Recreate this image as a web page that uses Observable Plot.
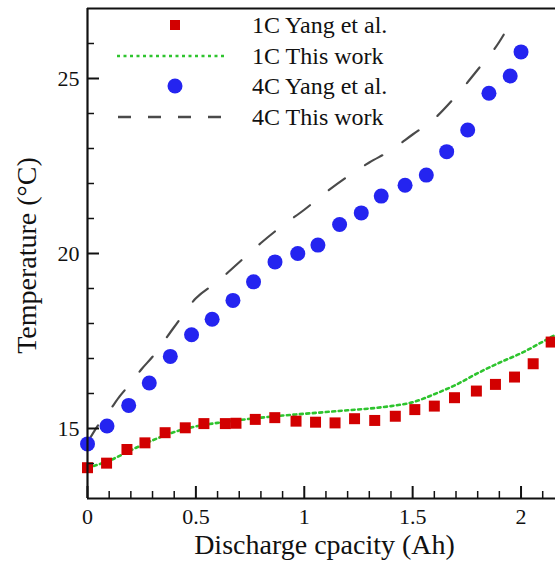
<!DOCTYPE html>
<html><head><meta charset="utf-8">
<script src="https://cdn.jsdelivr.net/npm/d3@7"></script>
<script src="https://cdn.jsdelivr.net/npm/@observablehq/plot@0.6"></script>
<style>
body{margin:0;background:#fff;overflow:hidden}
#wrap{position:relative;width:555px;height:568px}
.row{position:absolute;left:0;height:30px;width:555px;font-family:"Liberation Serif","Times New Roman",serif;font-size:24px;color:#111}
.row svg{position:absolute;left:110px;top:0}
.row span{position:absolute;left:252px;top:50%;transform:translateY(-50%);white-space:nowrap;line-height:1}
</style></head><body><div id="wrap"></div>
<script>
// 1C Yang et al. (red squares)
const yang1C_x = [0, 0.088, 0.182, 0.265, 0.358, 0.451, 0.537, 0.636, 0.685, 0.774, 0.864, 0.962, 1.052, 1.142, 1.232, 1.325, 1.42, 1.51, 1.60, 1.693, 1.794, 1.882, 1.97, 2.056, 2.139];
const yang1C_y = [13.88, 14.01, 14.40, 14.59, 14.88, 15.02, 15.14, 15.14, 15.15, 15.26, 15.31, 15.21, 15.18, 15.16, 15.28, 15.23, 15.35, 15.54, 15.64, 15.88, 16.07, 16.26, 16.47, 16.85, 17.47];
// 1C This work (green dotted)
const work1C_x = [0, 0.1, 0.2, 0.3, 0.4, 0.5, 0.6, 0.7, 0.8, 0.9, 1.0, 1.1, 1.2, 1.3, 1.4, 1.5, 1.6, 1.7, 1.8, 1.9, 2.0, 2.1, 2.159];
const work1C_y = [13.88, 14.08, 14.38, 14.66, 14.9, 15.06, 15.16, 15.24, 15.31, 15.37, 15.42, 15.47, 15.52, 15.57, 15.64, 15.75, 15.98, 16.25, 16.58, 16.88, 17.15, 17.48, 17.68];
// 4C Yang et al. (blue circles)
const yang4C_x = [0, 0.09, 0.19, 0.285, 0.382, 0.48, 0.575, 0.671, 0.766, 0.865, 0.97, 1.063, 1.163, 1.263, 1.355, 1.465, 1.563, 1.657, 1.754, 1.852, 1.95, 2.0];
const yang4C_y = [14.56, 15.07, 15.66, 16.30, 17.06, 17.68, 18.12, 18.66, 19.19, 19.76, 20.0, 20.24, 20.83, 21.16, 21.64, 21.95, 22.24, 22.91, 23.53, 24.58, 25.07, 25.76];
// 4C This work (gray dashed)
const work4C_x = [0, 0.05, 0.1, 0.15, 0.2, 0.25, 0.3, 0.4, 0.5, 0.6, 0.7, 0.8, 0.9, 1.0, 1.1, 1.2, 1.3, 1.4, 1.5, 1.6, 1.7, 1.8, 1.9, 1.92];
const work4C_y = [14.6, 15.1, 15.5, 15.93, 16.3, 16.7, 17.05, 17.9, 18.72, 19.2, 19.75, 20.3, 20.8, 21.25, 21.75, 22.2, 22.6, 22.95, 23.4, 23.85, 24.5, 25.25, 26.05, 26.25];

const xMajor = [0, 0.5, 1, 1.5, 2];
const xMinor = [0.1, 0.2, 0.3, 0.4, 0.6, 0.7, 0.8, 0.9, 1.1, 1.2, 1.3, 1.4, 1.6, 1.7, 1.8, 1.9, 2.1];
const yMajor = [15, 20, 25];
const yMinor = [14, 16, 17, 18, 19, 21, 22, 23, 24, 26];
const xLabel = "Discharge cpacity (Ah)";
const yLabel = "Temperature (°C)";
const seriesNames = ["1C Yang et al.", "1C This work", "4C Yang et al.", "4C This work"];

const RED = "#d20000", GREEN = "#2ec42e", BLUE = "#2424f0", GRAY = "#4a4a4a";
const SERIF = '"Liberation Serif", "Times New Roman", serif';

const zip = (xs, ys) => xs.map((x, i) => ({x, y: ys[i]}));
const yang1C = zip(yang1C_x, yang1C_y);
const work1C = zip(work1C_x, work1C_y);
const yang4C = zip(yang4C_x, yang4C_y);
const work4C = zip(work4C_x, work4C_y);

const W = 555, H = 568, mt = 8, mb = 70, ml = 87, mr = 0;
const frameH = H - mt - mb, frameW = W - ml - mr;

const chart = Plot.plot({
  width: W, height: H,
  marginTop: mt, marginBottom: mb, marginLeft: ml, marginRight: mr,
  style: {fontFamily: SERIF, background: "white", color: "#111", overflow: "visible"},
  x: {domain: [0, 2.159]},
  y: {domain: [13, 27]},
  marks: [
    Plot.line(work1C, {x: "x", y: "y", stroke: GREEN, strokeWidth: 2.6, strokeDasharray: "3,3.5", curve: "monotone-x"}),
    Plot.line(work4C, {x: "x", y: "y", stroke: GRAY, strokeWidth: 2.2, strokeDasharray: "20,24", curve: "monotone-x"}),
    Plot.dot(yang1C, {x: "x", y: "y", symbol: "square", r: 6.2, fill: RED}),
    Plot.dot(yang4C, {x: "x", y: "y", r: 7.5, fill: BLUE}),
    Plot.tickX(xMajor, {x: d => d, insetTop: frameH - 12, strokeWidth: 2, stroke: "#111"}),
    Plot.tickX(xMinor, {x: d => d, insetTop: frameH - 7, strokeWidth: 1.5, stroke: "#111"}),
    Plot.tickY(yMajor, {y: d => d, insetRight: frameW - 12, strokeWidth: 2, stroke: "#111"}),
    Plot.tickY(yMinor, {y: d => d, insetRight: frameW - 7, strokeWidth: 1.5, stroke: "#111"}),
    Plot.ruleX([0], {strokeWidth: 2.2, stroke: "#111"}),
    Plot.ruleY([13, 27], {strokeWidth: 2.2, stroke: "#111"}),
    Plot.axisX(xMajor, {tickSize: 0, tickPadding: 10, fontSize: 22, label: null, tickFormat: d => String(d)}),
    Plot.axisY(yMajor, {tickSize: 0, tickPadding: 8, fontSize: 22, label: null, tickFormat: d => String(d)}),
    Plot.text([xLabel], {text: d => d, frameAnchor: "bottom", textAnchor: "middle", lineAnchor: "middle", dx: 3, dy: 47, fontSize: 28}),
    Plot.text([yLabel], {text: d => d, frameAnchor: "left", textAnchor: "middle", lineAnchor: "middle", rotate: -90, dx: -60, dy: 2, fontSize: 28})
  ]
});
const wrap = document.getElementById("wrap");
wrap.appendChild(chart);

// Legend overlay
const swatches = [
  `<rect x="60" y="10" width="10" height="10" fill="${RED}"/>`,
  `<line x1="7" x2="117" y1="15" y2="15" stroke="${GREEN}" stroke-width="2.6" stroke-dasharray="3,3.5"/>`,
  `<circle cx="65" cy="15" r="7.5" fill="${BLUE}"/>`,
  `<line x1="8" x2="117" y1="15" y2="15" stroke="${GRAY}" stroke-width="2.4" stroke-dasharray="13,17"/>`
];
const rowCenters = [25, 56, 86, 117];
seriesNames.forEach((name, i) => {
  const row = document.createElement("div");
  row.className = "row";
  row.style.top = (rowCenters[i] - 15) + "px";
  row.innerHTML = `<svg width="125" height="30">${swatches[i]}</svg><span>${name}</span>`;
  wrap.appendChild(row);
});
</script>
</body></html>
